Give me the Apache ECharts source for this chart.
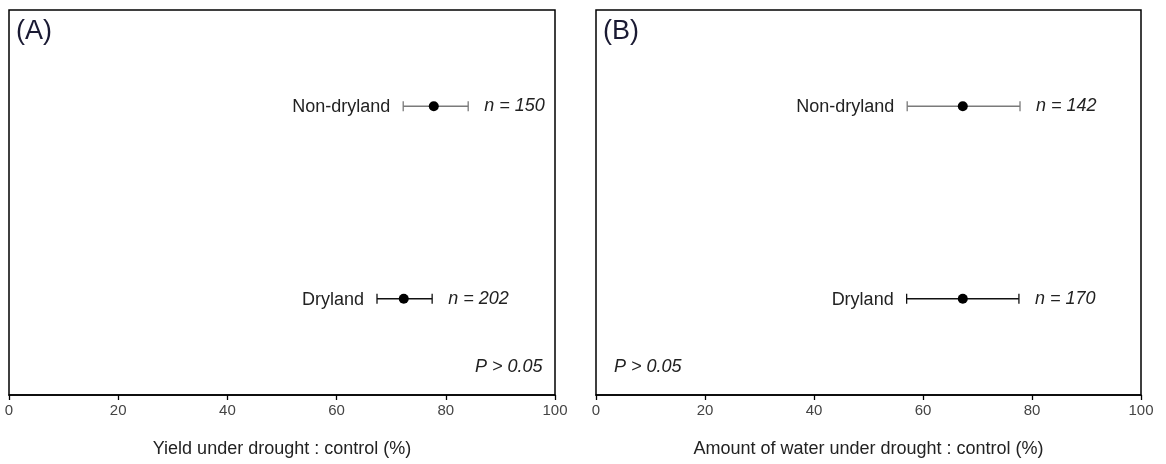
<!DOCTYPE html>
<html lang="en">
<head>
    <meta charset="UTF-8">
    <title>drought ratio</title>
    <script src="https://cdn.jsdelivr.net/npm/echarts@6/dist/echarts.min.js"></script>
    <style>
        html, body { margin: 0; padding: 0; background: #fff; }
    </style>
</head>
<body>
<div id="main" style="width: 1166px;height: 464px;"></div>
<script>
    // groups, top to bottom
    var groups = ['Non-dryland', 'Dryland']
    var groupPos = [3, 1]
    var whiskerColor = ['#7a7a7a', '#111']

    // panel A: yield
    var yieldMean = [77.8, 72.3]
    var yieldLow = [72.2, 67.4]
    var yieldHigh = [84.1, 77.5]
    var yieldN = [150, 202]

    // panel B: water
    var waterMean = [67.3, 67.3]
    var waterLow = [57.1, 57.0]
    var waterHigh = [77.8, 77.6]
    var waterN = [142, 170]

    var mCharts = echarts.init(document.getElementById('main'))
    var font = 'Liberation Sans, Arial, sans-serif'

    function rows(mean, low, high, n) {
        return groups.map(function (g, i) {
            return [mean[i], groupPos[i], low[i], high[i], n[i], i]
        })
    }

    function renderBar(params, api) {
        var y = api.value(1)
        var p = api.coord([api.value(0), y])
        var lo = api.coord([api.value(2), y])
        var hi = api.coord([api.value(3), y])
        var idx = api.value(5)
        var col = whiskerColor[idx]
        var st = { stroke: col, lineWidth: 1.3 }
        return {
            type: 'group',
            children: [
                { type: 'line', shape: { x1: lo[0], y1: p[1], x2: hi[0], y2: p[1] }, style: st },
                { type: 'line', shape: { x1: lo[0], y1: p[1] - 5, x2: lo[0], y2: p[1] + 5 }, style: st },
                { type: 'line', shape: { x1: hi[0], y1: p[1] - 5, x2: hi[0], y2: p[1] + 5 }, style: st },
                { type: 'circle', shape: { cx: p[0], cy: p[1], r: 5 }, style: { fill: '#000' } },
                {
                    type: 'text', x: lo[0] - 13, y: p[1] + 1,
                    style: { text: groups[idx], fill: '#222', font: '18px ' + font, align: 'right', verticalAlign: 'middle' }
                },
                {
                    type: 'text', x: hi[0] + 16, y: p[1],
                    style: { text: 'n = ' + api.value(4), fill: '#222', font: 'italic 18px ' + font, align: 'left', verticalAlign: 'middle' }
                }
            ]
        }
    }

    function xAxisFor(gi, name) {
        return {
            gridIndex: gi, type: 'value', min: 0, max: 100, interval: 20,
            name: name, nameLocation: 'middle', nameGap: 45,
            nameTextStyle: { color: '#222', fontSize: 18, fontFamily: font },
            axisLine: { lineStyle: { color: '#000', width: 1.5 } },
            axisTick: { show: true, inside: false, length: 5, lineStyle: { color: '#000', width: 1.3 } },
            axisLabel: { color: '#444', fontSize: 15, fontFamily: font, margin: 8 },
            splitLine: { show: false }
        }
    }

    function yAxisFor(gi) {
        return {
            gridIndex: gi, type: 'value', min: 0, max: 4,
            axisLine: { show: false }, axisTick: { show: false },
            axisLabel: { show: false }, splitLine: { show: false }
        }
    }

    var option = {
        animation: false,
        grid: [
            { left: 9, right: 611, top: 10, bottom: 69, show: true, borderColor: '#000', borderWidth: 1.5 },
            { left: 596, right: 25, top: 10, bottom: 69, show: true, borderColor: '#000', borderWidth: 1.5 }
        ],
        xAxis: [
            xAxisFor(0, 'Yield under drought : control (%)'),
            xAxisFor(1, 'Amount of water under drought : control (%)')
        ],
        yAxis: [yAxisFor(0), yAxisFor(1)],
        series: [
            {
                type: 'custom', xAxisIndex: 0, yAxisIndex: 0,
                renderItem: renderBar,
                data: rows(yieldMean, yieldLow, yieldHigh, yieldN)
            },
            {
                type: 'custom', xAxisIndex: 1, yAxisIndex: 1,
                renderItem: renderBar,
                data: rows(waterMean, waterLow, waterHigh, waterN)
            }
        ],
        graphic: [
            { type: 'text', left: 16, top: 18, style: { text: '(A)', fill: '#1a1a33', font: '27px ' + font } },
            { type: 'text', left: 603, top: 18, style: { text: '(B)', fill: '#1a1a33', font: '27px ' + font } },
            { type: 'text', left: 475, top: 358, style: { text: 'P > 0.05', fill: '#222', font: 'italic 18px ' + font } },
            { type: 'text', left: 614, top: 358, style: { text: 'P > 0.05', fill: '#222', font: 'italic 18px ' + font } }
        ]
    }
    mCharts.setOption(option)
</script>
</body>
</html>
